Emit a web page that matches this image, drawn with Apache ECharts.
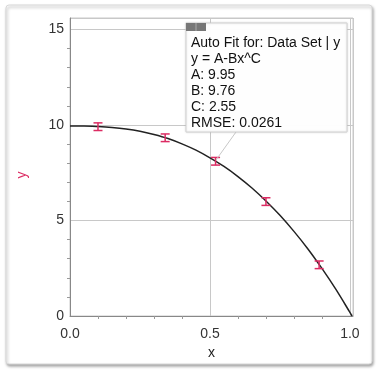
<!DOCTYPE html>
<html><head><meta charset="utf-8">
<script src="https://cdn.jsdelivr.net/npm/echarts@6/dist/echarts.min.js"></script>
<style>html,body{margin:0;padding:0;background:#fff}#c{width:379px;height:372px}</style>
</head><body><div id="c"></div>
<script>
var xData = [0.10, 0.34, 0.52, 0.70, 0.89];
var yData = [9.91, 9.33, 8.10, 5.99, 2.68];
var yErr = [0.2, 0.2, 0.2, 0.2, 0.2];
var fitX = [0, 0.05, 0.1, 0.15, 0.2, 0.25, 0.3, 0.35, 0.4, 0.45, 0.5, 0.55, 0.6, 0.65, 0.7, 0.75, 0.8, 0.85, 0.9, 0.95, 1.0, 1.0077];
var fitY = [9.95, 9.95, 9.92, 9.87, 9.79, 9.67, 9.50, 9.29, 9.01, 8.68, 8.28, 7.83, 7.30, 6.70, 6.02, 5.27, 4.43, 3.51, 2.49, 1.39, 0.19, 0];
var xTicks = [0.0, 0.5, 1.0];
var yTicks = [0, 5, 10, 15];
var fitText = ['Auto Fit for: Data Set | y', 'y = A-Bx^C', 'A: 9.95', 'B: 9.76', 'C: 2.55', 'RMSE: 0.0261'];

var chart = echarts.init(document.getElementById('c'));
var font = 'Liberation Sans, Arial, sans-serif';
var red = '#dc2c63';
var pts = xData.map(function (x, i) { return [x, yData[i], yErr[i]]; });
var fit = fitX.map(function (x, i) { return [x, fitY[i]]; });

chart.setOption({
  animation: false,
  graphic: [
    { type: 'rect', shape: { x: 6, y: 5, width: 366, height: 359, r: 3 }, z: -10,
      style: { fill: '#fff', stroke: '#d8d8d8', lineWidth: 1, shadowBlur: 3, shadowOffsetX: 1, shadowOffsetY: 2, shadowColor: 'rgba(0,0,0,0.35)' } },
    { type: 'line', shape: { x1: 236, y1: 132, x2: 216, y2: 160 }, z: 50, style: { stroke: '#c8c8c8', lineWidth: 1 } },
    { type: 'rect', shape: { x: 186, y: 23, width: 161, height: 109 }, z: 60,
      style: { fill: 'rgba(255,255,255,0.97)', stroke: '#d4d4d4', lineWidth: 1, shadowBlur: 2, shadowColor: 'rgba(0,0,0,0.15)' } },
    { type: 'rect', shape: { x: 186, y: 23, width: 20, height: 8 }, z: 61, style: { fill: '#777' } },
    { type: 'line', shape: { x1: 196, y1: 23, x2: 196, y2: 31 }, z: 62, style: { stroke: '#aaa', lineWidth: 1 } },
    { type: 'text', left: 191, top: 35, z: 62,
      style: { text: fitText.join('\n'), font: '14px ' + font, fill: '#111', lineHeight: 16 } },
    { type: 'text', x: 22, y: 175, rotation: Math.PI / 2, z: 62,
      style: { text: 'y', font: '14px ' + font, fill: red, align: 'center', verticalAlign: 'middle' } }
  ],
  grid: { left: 70, right: 26, top: 18, bottom: 56, show: true, borderColor: '#c8c8c8', borderWidth: 1 },
  xAxis: {
    type: 'value', min: 0, max: 1.011, interval: 0.5,
    name: 'x', nameLocation: 'middle', nameGap: 30,
    nameTextStyle: { color: '#222', fontSize: 14, fontFamily: font },
    axisLine: { show: true, onZero: false, lineStyle: { color: '#888' } },
    axisTick: { show: true, length: 0 },
    minorTick: { show: true, splitNumber: 5, length: 3, lineStyle: { color: '#999' } },
    axisLabel: { color: '#333', fontSize: 14, fontFamily: font, margin: 11,
      formatter: function (v) { return xTicks.indexOf(+v.toFixed(1)) >= 0 && v <= 1.0 ? v.toFixed(1) : ''; } },
    splitLine: { show: true, lineStyle: { color: '#c8c8c8' } }
  },
  yAxis: {
    type: 'value', min: 0, max: 15.6, interval: 5,
    axisLine: { show: true, onZero: false, lineStyle: { color: '#888' } },
    axisTick: { show: false },
    minorTick: { show: true, splitNumber: 5, length: 3, lineStyle: { color: '#999' } },
    axisLabel: { color: '#333', fontSize: 14, fontFamily: font, margin: 6,
      formatter: function (v) { return yTicks.indexOf(v) >= 0 ? String(v) : ''; } },
    splitLine: { show: true, lineStyle: { color: '#c8c8c8' } }
  },
  series: [
    { type: 'line', data: fit, showSymbol: false, smooth: 0.3, lineStyle: { color: '#222', width: 1.5 }, z: 3 },
    { type: 'custom', data: pts, z: 4,
      renderItem: function (params, api) {
        var x = api.value(0), y = api.value(1), e = api.value(2);
        var top = api.coord([x, y + e]), bot = api.coord([x, y - e]);
        var w = 4.5;
        var st = { stroke: red, lineWidth: 1.5 };
        return { type: 'group', children: [
          { type: 'line', shape: { x1: top[0], y1: top[1], x2: bot[0], y2: bot[1] }, style: st },
          { type: 'line', shape: { x1: top[0] - w, y1: top[1], x2: top[0] + w, y2: top[1] }, style: st },
          { type: 'line', shape: { x1: bot[0] - w, y1: bot[1], x2: bot[0] + w, y2: bot[1] }, style: st }
        ] };
      }
    }
  ]
});
</script></body></html>
